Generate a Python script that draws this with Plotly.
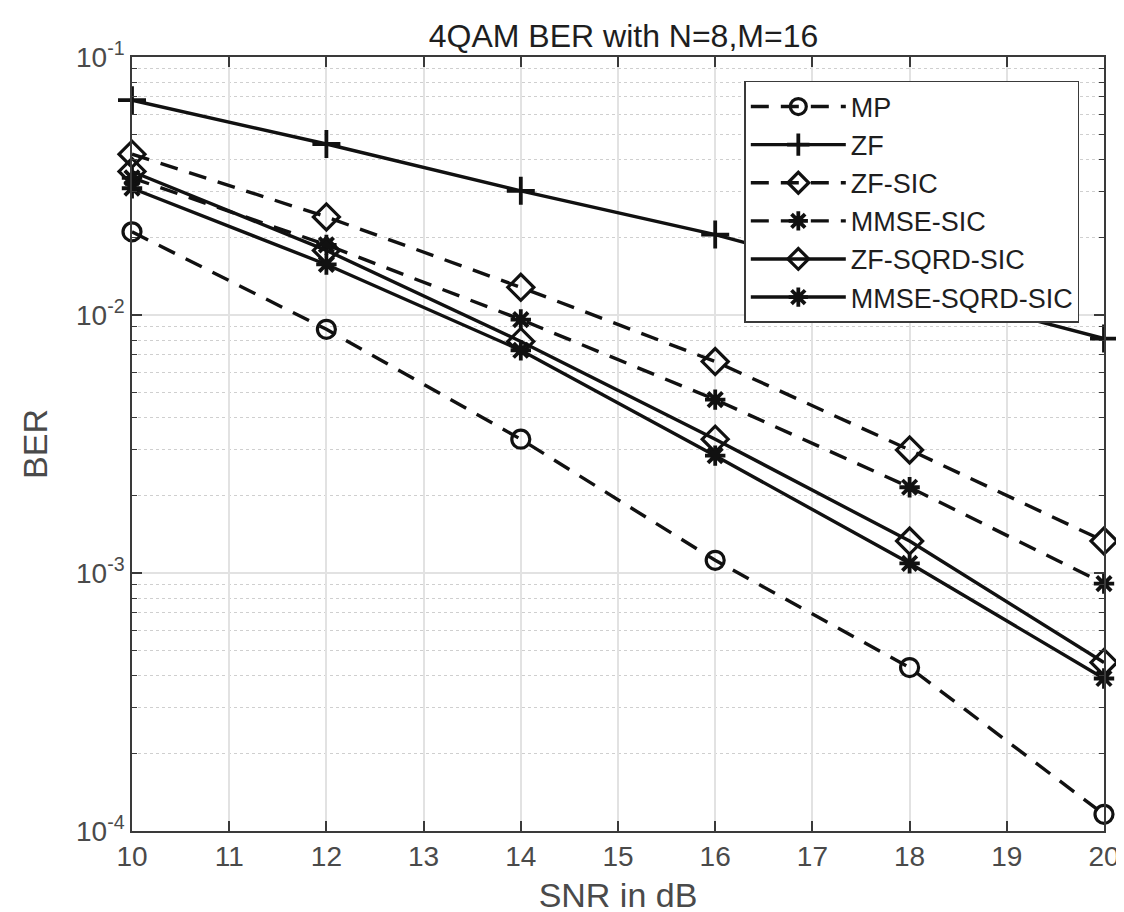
import plotly.graph_objects as go

snr = [10, 12, 14, 16, 18, 20]

ber_mp = [0.021, 0.0088, 0.0033, 0.00112, 0.00043, 0.000116]
ber_zf = [0.068, 0.046, 0.0303, 0.0205, 0.0128, 0.0081]
ber_zf_sic = [0.042, 0.024, 0.0128, 0.0066, 0.0030, 0.00133]
ber_mmse_sic = [0.034, 0.0187, 0.0096, 0.0047, 0.00215, 0.00091]
ber_zf_sqrd = [0.036, 0.0178, 0.0079, 0.0033, 0.00133, 0.00045]
ber_mmse_sqrd = [0.031, 0.0157, 0.0073, 0.00285, 0.00109, 0.00039]

series_names = ["MP", "ZF", "ZF-SIC", "MMSE-SIC", "ZF-SQRD-SIC", "MMSE-SQRD-SIC"]
x_ticks = list(range(10, 21))
y_decades = [1e-4, 1e-3, 1e-2, 1e-1]
y_ticktext = ["10<sup>-4</sup>", "10<sup>-3</sup>", "10<sup>-2</sup>", "10<sup>-1</sup>"]
minor_mult = [2, 3, 4, 5, 6, 7, 8, 9]
y_minor = [m * d for d in y_decades[:-1] for m in minor_mult]

LINE = "#111111"
TXT = "#4a4a4a"
AX = "#3a3a3a"
FONT = "Liberation Sans, Arial, sans-serif"
DASH = "18px,12px"

styles = [
    (ber_mp, DASH, "circle-open", 18, 3.2),
    (ber_zf, "solid", "cross-thin-open", 20, 3.8),
    (ber_zf_sic, DASH, "diamond-open", 20, 3.2),
    (ber_mmse_sic, DASH, "asterisk-open", 17, 3.8),
    (ber_zf_sqrd, "solid", "diamond-open", 20, 3.2),
    (ber_mmse_sqrd, "solid", "asterisk-open", 17, 3.8),
]

fig = go.Figure()
for name, (vals, dash, sym, size, mlw) in zip(series_names, styles):
    fig.add_trace(go.Scatter(
        x=snr, y=vals, name=name, mode="lines+markers",
        line=dict(color=LINE, width=3.4, dash=dash),
        marker=dict(symbol=sym, size=size, color=LINE,
                    line=dict(color=LINE, width=mlw)),
        cliponaxis=False,
    ))

fig.update_layout(
    width=1124, height=912,
    margin=dict(l=124, r=17, t=49, b=89),
    paper_bgcolor="white", plot_bgcolor="white",
    font=dict(family=FONT, size=28, color=TXT),
    title=dict(text="4QAM BER with N=8,M=16", x=0.5476, xanchor="center",
               y=0.969, yanchor="middle", yref="container",
               font=dict(size=32, color="#1e1e1e")),
    showlegend=True,
    legend=dict(x=0.9746, xanchor="right", y=0.969, yanchor="top",
                bgcolor="white", bordercolor=AX, borderwidth=1.5,
                font=dict(size=27, color="#1e1e1e"), itemwidth=95,
                tracegroupgap=0),
)

fig.update_xaxes(
    range=[10, 20], tickvals=x_ticks, ticks="inside", ticklen=10,
    tickwidth=1.5, tickcolor=AX,
    showline=True, linecolor=AX, linewidth=1.5, mirror="allticks",
    showgrid=True, gridcolor="#e2e2e2", gridwidth=1.5, zeroline=False,
    title=dict(text="SNR in dB", standoff=12), tickfont=dict(size=28, color=TXT),
)
fig.update_yaxes(
    type="log", range=[-4, -1], tickvals=y_decades, ticktext=y_ticktext,
    ticks="inside", ticklen=10, tickwidth=1.5, tickcolor=AX,
    showline=True, linecolor=AX, linewidth=1.5, mirror="allticks",
    showgrid=True, gridcolor="#e2e2e2", gridwidth=1.5, zeroline=False,
    minor=dict(tickmode="array", tickvals=y_minor, ticks="inside", ticklen=5,
               tickcolor=AX, tickwidth=1.2,
               showgrid=True, gridcolor="#cfcfcf", griddash="dot", gridwidth=1),
    title=dict(text="BER", standoff=18), tickfont=dict(size=28, color=TXT),
)

fig.write_html("out.html")
